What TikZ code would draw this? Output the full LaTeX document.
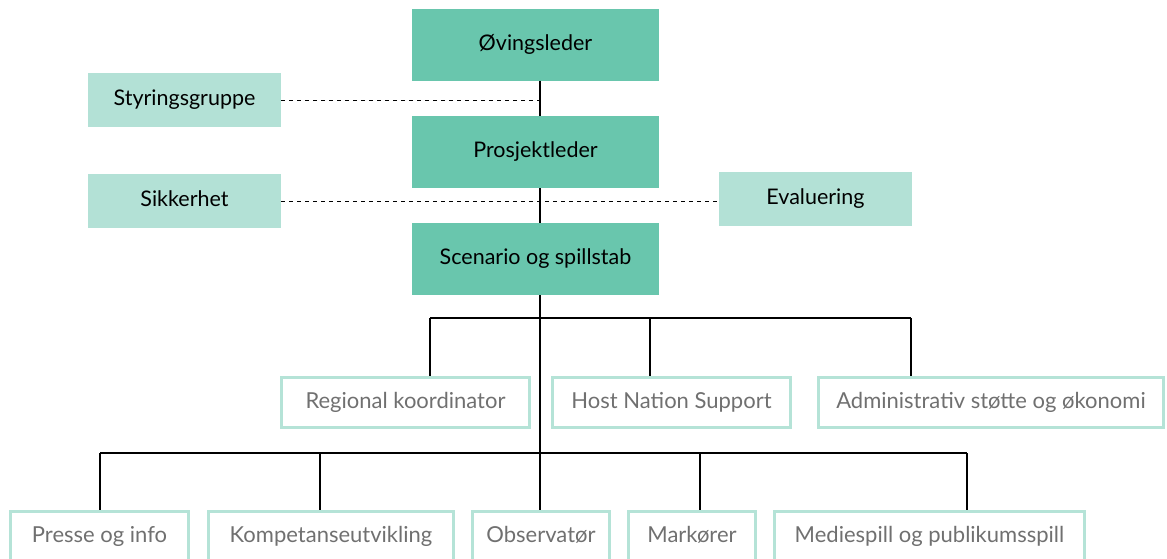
\documentclass[tikz,border=0pt]{standalone}
\usepackage{fontspec}
\setmainfont{Lato}
\usetikzlibrary{positioning}

\definecolor{tealdark}{HTML}{69C6AD}
\definecolor{teallight}{HTML}{B3E1D6}
\definecolor{tealline}{HTML}{B5E3D7}
\definecolor{textgray}{HTML}{707070}

\begin{document}
\begin{tikzpicture}[x=1pt, y=-1pt,
    lead/.style={fill=tealdark, minimum width=247pt, minimum height=72pt, inner sep=0pt, text height=15pt, text depth=4pt, font=\fontsize{21.5}{24}\selectfont},
    side/.style={fill=teallight, minimum width=193pt, minimum height=54pt, inner sep=0pt, text height=15pt, text depth=4pt, font=\fontsize{21.5}{24}\selectfont},
    unit/.style={draw=tealline, line width=3pt, text=textgray, minimum height=50pt, inner sep=0pt, text height=15pt, text depth=4pt, font=\fontsize{22}{24}\selectfont},
    link/.style={line width=1.3pt},
    dotlink/.style={line width=0.9pt, dash pattern=on 4pt off 4pt}]
    \clip (0,0) rectangle (1167,558);
    \useasboundingbox (0,0) rectangle (1167,558);

    % Ledelse
    \node[lead] (ovings) at (535.5,44.5) {Øvingsleder};
    \node[lead] (prosj) at (535.5,152) {Prosjektleder};
    \node[lead] (scen) at (535.5,259) {Scenario og spillstab};

    % Stab ved siden
    \node[side] (styr) at (184.5,100) {Styringsgruppe};
    \node[side] (sikk) at (184.5,201) {Sikkerhet};
    \node[side] (eval) at (815.5,198.5) {Evaluering};

    % Midtre rad
    \node[unit, minimum width=248pt] (regional) at (405.5,402.5) {Regional koordinator};
    \node[unit, minimum width=238pt] (host) at (671.5,402.5) {Host Nation Support};
    \node[unit, minimum width=345pt] (admin) at (991,402.5) {Administrativ støtte og økonomi};

    % Nederste rad
    \node[unit, minimum width=178pt] (presse) at (99.5,536.5) {Presse og info};
    \node[unit, minimum width=245pt] (kompet) at (331,536.5) {Kompetanseutvikling};
    \node[unit, minimum width=137pt] (observ) at (541,536.5) {Observatør};
    \node[unit, minimum width=127pt] (markor) at (692,536.5) {Markører};
    \node[unit, minimum width=310pt] (medie) at (929.5,536.5) {Mediespill og publikumsspill};

    % Hovedlinje
    \coordinate (spine) at (540,0);
    \draw[link] (ovings.south -| spine) -- (prosj.north -| spine);
    \draw[link] (prosj.south -| spine) -- (scen.north -| spine);
    \draw[link] (scen.south -| spine) -- (observ.north -| spine);

    % Stiplede linjer
    \draw[dotlink] (styr.east) -- (styr.east -| spine);
    \draw[dotlink] (sikk.east) -- (sikk.east -| eval.west);

    % Buss midtre rad
    \coordinate (dReg) at (430,318);
    \coordinate (dHost) at (650,318);
    \coordinate (dAdm) at (911,318);
    \draw[link] (dReg) -- (dAdm);
    \draw[link] (dReg) -- (dReg |- regional.north);
    \draw[link] (dHost) -- (dHost |- host.north);
    \draw[link] (dAdm) -- (dAdm |- admin.north);

    % Buss nederste rad
    \coordinate (dPre) at (100,453);
    \coordinate (dKom) at (320,453);
    \coordinate (dMar) at (700,453);
    \coordinate (dMed) at (967,453);
    \draw[link] (dPre) -- (dMed);
    \draw[link] (dPre) -- (dPre |- presse.north);
    \draw[link] (dKom) -- (dKom |- kompet.north);
    \draw[link] (dMar) -- (dMar |- markor.north);
    \draw[link] (dMed) -- (dMed |- medie.north);
\end{tikzpicture}
\end{document}
